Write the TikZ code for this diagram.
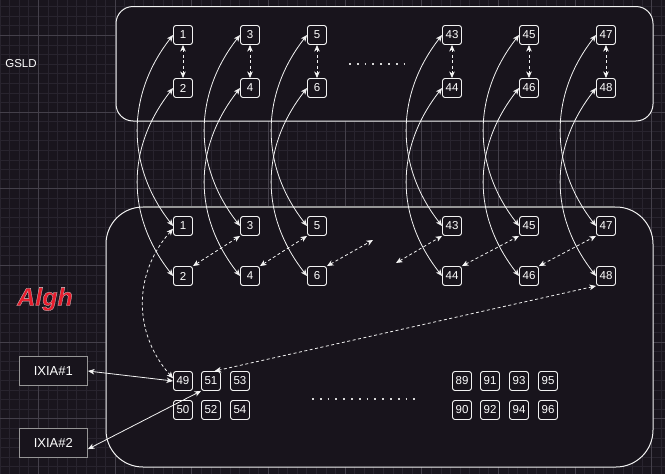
\documentclass[tikz,border=0pt]{standalone}
\usepackage{fontspec}
\setmainfont{Liberation Sans}
\newfontfamily\alghfont[FakeBold=1.2]{Liberation Sans Bold Italic}
\usetikzlibrary{arrows.meta}
\definecolor{bg}{RGB}{25,21,29}
\definecolor{boxfill}{RGB}{24,20,28}
\definecolor{gridminor}{RGB}{40,36,46}
\definecolor{gridmajor}{RGB}{68,64,74}
\definecolor{ln}{RGB}{242,242,242}
\definecolor{ixb}{RGB}{150,150,150}
\definecolor{alghred}{RGB}{232,28,44}
\begin{document}
\begin{tikzpicture}[x=1pt,y=-1pt,
  myarr/.tip={Stealth[length=6.5pt,width=5.5pt,inset=1.8pt]},
  port/.style={draw=ln, fill=boxfill, line width=0.9pt, rounded corners=2.5pt,
    minimum width=19pt, minimum height=19pt, inner sep=0pt, text=white,
    font=\fontsize{11.5}{13}\selectfont},
  ixia/.style={draw=ixb, fill=boxfill, line width=1.2pt, minimum width=68pt,
    minimum height=28.5pt, inner sep=0pt, text=white, font=\fontsize{13}{15}\selectfont},
  lbl/.style={text=white, inner sep=0pt, font=\fontsize{11.5}{13}\selectfont},
  alghtext/.style={text=alghred, inner sep=0pt, anchor=base,
    font=\fontsize{25}{30}\alghfont},
  conn/.style={draw=ln, line width=0.8pt, myarr-myarr},
  dconn/.style={conn, dash pattern=on 3pt off 2.5pt},
  dotrow/.style={draw={rgb,255:red,215;green,215;blue,215}, line width=1.8pt, dash pattern=on 1.8pt off 6pt},
]
\useasboundingbox (0,0) rectangle (665,474);
\fill[bg] (0,0) rectangle (665,474);
% grid
\foreach \i in {-4,...,65} {
  \pgfmathsetmacro\gx{38.33+9.583*\i}
  \draw[gridminor, line width=0.6pt] (\gx,0) -- (\gx,474);
}
\foreach \j in {-11,...,37} {
  \pgfmathsetmacro\gy{112+9.583*\j}
  \draw[gridminor, line width=0.6pt] (0,\gy) -- (665,\gy);
}
\foreach \k in {0,...,8} {
  \pgfmathsetmacro\gx{38.33+76.67*\k}
  \draw[gridmajor, line width=0.7pt] (\gx,0) -- (\gx,474);
}
\foreach \k in {-1,...,4} {
  \pgfmathsetmacro\gy{112+76.67*\k}
  \draw[gridmajor, line width=0.7pt] (0,\gy) -- (665,\gy);
}
% containers
\draw[ln, line width=1pt, fill=boxfill, rounded corners=17pt] (116,6.5) rectangle (653,121);
\draw[ln, line width=1pt, fill=boxfill, rounded corners=37pt] (106,207) rectangle (653,467);
\draw[ixb, line width=1.5pt] (143,207) -- (615,207);
% labels
\node[lbl] (gsld) at (21,63.5) {GSLD};
\node[alghtext] (algh) at (45,305.5) {\special{pdf:code 0.8 G}Algh};
% ellipsis dots
\draw[dotrow] (349,63.7) -- (406,63.7);
\draw[dotrow] (312,399) -- (416,399);
% ports
\foreach \a/\b/\x in {1/2/183, 3/4/250, 5/6/317, 43/44/452, 45/46/529, 47/48/606} {
  \node[port] (t\a) at (\x,35) {\a};
  \node[port] (t\b) at (\x,88) {\b};
  \node[port] (b\a) at (\x,226) {\a};
  \node[port] (b\b) at (\x,276) {\b};
}
\foreach \n/\x in {49/183, 51/211, 53/240, 89/462, 91/490, 93/519, 95/548}
  \node[port] (n\n) at (\x,381) {\n};
\foreach \n/\x in {50/183, 52/211, 54/240, 90/462, 92/490, 94/519, 96/548}
  \node[port] (n\n) at (\x,410) {\n};
\node[ixia] (ix1) at (53.3,371) {IXIA\#1};
\node[ixia] (ix2) at (53.3,443) {IXIA\#2};
\coordinate (c6r) at (373,240);
\coordinate (c43l) at (396,263);
% connectors
\foreach \a/\b in {1/2, 3/4, 5/6, 43/44, 45/46, 47/48} {
  \draw[dconn] (t\a.south) -- (t\b.north);
  \draw[conn] (t\a.west) .. controls +(-47,60) and +(-47,-60) .. (b\a.west);
  \draw[conn] (t\b.west) .. controls +(-47,60) and +(-47,-60) .. (b\b.west);
}
\foreach \a/\b in {2/3, 4/5, 44/45, 46/47}
  \draw[dconn] (b\a.north east) -- (b\b.south west);
\draw[dconn] (b6.north east) -- (c6r);
\draw[dconn] (c43l) -- (b43.south west);
\draw[dconn] (b1.-165) .. controls +(-40,45) and +(-40,-45) .. (n49.165);
\draw[dconn] (b48.south west) -- (n51.70);
\draw[conn] (ix1.east) -- (n49.west);
\draw[conn] (ix2.-10) -- (n51.south west);
\end{tikzpicture}
\end{document}
